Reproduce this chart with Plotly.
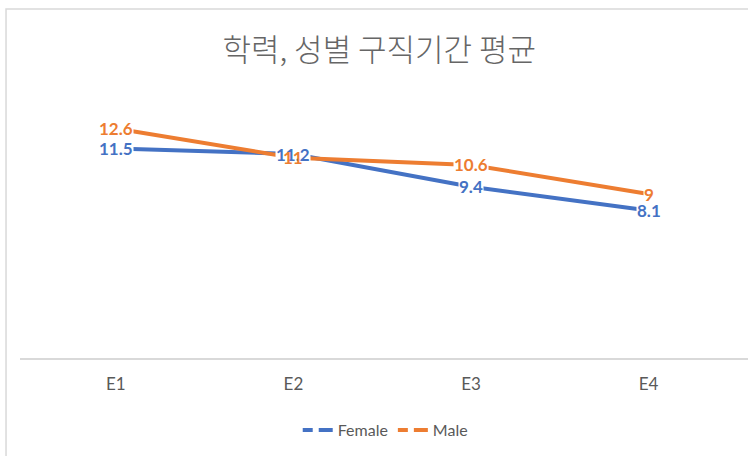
import plotly.graph_objects as go

categories = ["E1", "E2", "E3", "E4"]
female = [11.5, 11.2, 9.4, 8.1]
male = [12.6, 11.0, 10.6, 9.0]

BLUE = "#4472C4"
ORANGE = "#ED7D31"
GREY = "#595959"
LABEL_FONT = "Lato"

fig = go.Figure()

# series lines (legend drawn by separate dashed entries, like Excel's gap symbol)
for name, vals, color in [("Female", female, BLUE), ("Male", male, ORANGE)]:
    fig.add_trace(go.Scatter(
        x=list(range(len(categories))), y=vals,
        mode="lines", name=name, showlegend=False,
        line=dict(color=color, width=4), hoverinfo="skip",
    ))

for name, color in [("Female", BLUE), ("Male", ORANGE)]:
    fig.add_trace(go.Scatter(
        x=[None], y=[None], mode="lines", name=name,
        line=dict(color=color, width=4, dash="10px,6px,14px"),
    ))

# data labels: white boxes first so lines are hidden, then the text
annotations = []
for vals in (female, male):
    for i, v in enumerate(vals):
        annotations.append(dict(
            x=i, y=v, xref="x", yref="y", text=f"{v:g}", showarrow=False,
            font=dict(family=LABEL_FONT, size=17, color="white", weight="bold"),
            bgcolor="white", borderpad=0,
        ))
for vals, color in ((female, BLUE), (male, ORANGE)):
    for i, v in enumerate(vals):
        annotations.append(dict(
            x=i, y=v, xref="x", yref="y", text=f"{v:g}", showarrow=False,
            font=dict(family=LABEL_FONT, size=17, color=color, weight="bold"),
        ))

fig.update_layout(
    width=748, height=456,
    paper_bgcolor="white", plot_bgcolor="white",
    margin=dict(l=20, r=0, t=103, b=98, autoexpand=False),
    title=dict(
        text="학력, 성별 구직기간 평균",
        font=dict(family="Noto Sans CJK KR", size=31, color="#666666", weight=300),
        x=0.507, xref="container", y=0.89, yref="container",
        xanchor="center", yanchor="middle",
    ),
    xaxis=dict(
        range=[-0.54, 3.56], tickvals=list(range(len(categories))),
        ticktext=categories, showgrid=False, zeroline=False,
        showline=True, linecolor="#D9D9D9", linewidth=1.5,
        ticks="outside", ticklen=10, tickcolor="rgba(0,0,0,0)",
        tickfont=dict(family=LABEL_FONT, size=17, color=GREY),
    ),
    yaxis=dict(range=[0, 14], visible=False),
    legend=dict(
        orientation="h", x=0.515, xref="container", xanchor="center",
        y=0.057, yref="container", yanchor="middle",
        font=dict(family=LABEL_FONT, size=16, color=GREY),
        itemwidth=30, tracegroupgap=20,
    ),
    annotations=annotations,
    shapes=[dict(
        type="rect", xref="paper", yref="paper",
        x0=-0.0192, x1=1.05, y0=-0.5, y1=1.3686,
        line=dict(color="#D9D9D9", width=1.5), layer="below",
    )],
    showlegend=True,
)

# page body has a default 8px margin; drop it so the figure sits at the corner
fig.write_html(
    "out.html",
    config={"displayModeBar": False},
    post_script="document.body.style.margin='0';",
)
